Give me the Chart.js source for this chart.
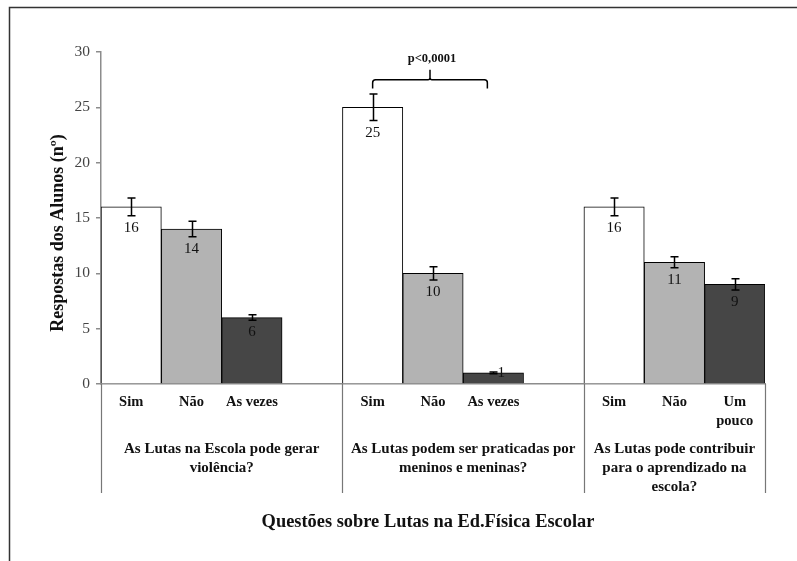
<!DOCTYPE html>
<html>
<head>
<meta charset="utf-8">
<script src="https://cdn.jsdelivr.net/npm/chart.js@4.4.0/dist/chart.umd.min.js"></script>
<style>
html, body { margin: 0; padding: 0; background: #fff; }
</style>
</head>
<body>
<canvas id="chart" width="797" height="561"></canvas>
<script>
// data
var categories = ["Sim", "Não", "As vezes", "", "Sim", "Não", "As vezes", "", "Sim", "Não", ["Um", "pouco"]];
var values = [16, 14, 6, null, 25, 10, 1, null, 16, 11, 9];
var errors = [0.8, 0.7, 0.25, null, 1.2, 0.6, 0.08, null, 0.8, 0.5, 0.5];
var answer_type = [0, 1, 2, null, 0, 1, 2, null, 0, 1, 2];
var group_labels = [
  ["As Lutas na Escola pode gerar", "violência?"],
  ["As Lutas podem ser praticadas por", "meninos e meninas?"],
  ["As Lutas pode contribuir", "para o aprendizado na", "escola?"]
];
var group_start = [0, 4, 8];
var group_end = [3, 7, 10];
var bracket_from = 4;
var bracket_to = 6;
var bracket_text = "p<0,0001";
var y_title = "Respostas dos Alunos (nº)";
var x_title = "Questões sobre Lutas na Ed.Física Escolar";

var fills = ["#ffffff", "#b3b3b3", "#464646"];
var serif = '"Liberation Serif", "Times New Roman", serif';

var bar_colors = [];
for (var i in answer_type) {
  bar_colors.push(answer_type[i] == null ? "#fff" : fills[answer_type[i]]);
}

// frame, error bars, value labels, group labels, bracket, axis titles
var extras = {
  id: "extras",
  afterDraw: function(chart) {
    var ctx = chart.ctx;
    var x = chart.scales.x;
    var y = chart.scales.y;
    var w = x.getPixelForValue(1) - x.getPixelForValue(0);
    ctx.save();

    // outer frame (cut at right and bottom like the picture)
    ctx.strokeStyle = "#333";
    ctx.lineWidth = 1.5;
    ctx.beginPath();
    ctx.moveTo(9.5, 561);
    ctx.lineTo(9.5, 7.5);
    ctx.lineTo(797, 7.5);
    ctx.stroke();

    // error bars
    ctx.strokeStyle = "#000";
    ctx.lineWidth = 1.5;
    for (var i = 0; i < values.length; i++) {
      if (values[i] == null) continue;
      var cx = Math.round(x.getPixelForValue(i)) + 0.5;
      var top = y.getPixelForValue(values[i] + errors[i]);
      var bot = y.getPixelForValue(values[i] - errors[i]);
      ctx.beginPath();
      ctx.moveTo(cx, top); ctx.lineTo(cx, bot);
      ctx.moveTo(cx - 4, top); ctx.lineTo(cx + 4, top);
      ctx.moveTo(cx - 4, bot); ctx.lineTo(cx + 4, bot);
      ctx.stroke();
    }

    // value labels under the error bars
    ctx.font = "15px " + serif;
    ctx.fillStyle = "#111";
    ctx.textAlign = "center";
    ctx.textBaseline = "middle";
    for (var i = 0; i < values.length; i++) {
      if (values[i] == null) continue;
      var lx = x.getPixelForValue(i);
      var ly = y.getPixelForValue(values[i] - errors[i]) + 12;
      if (ly > y.bottom - 9) {
        ly = y.getPixelForValue(values[i]);
        lx += 8;
      }
      ctx.fillText(String(values[i]), lx, ly);
    }

    // group separators below the axis
    ctx.strokeStyle = "#777";
    ctx.lineWidth = 1.2;
    var edges = [x.getPixelForValue(group_start[0]) - w / 2];
    for (var g = 0; g < group_end.length; g++) {
      edges.push(x.getPixelForValue(group_end[g]) + w / 2);
    }
    ctx.beginPath();
    for (var e in edges) {
      var ex = Math.round(edges[e]) + 0.5;
      ctx.moveTo(ex, y.bottom);
      ctx.lineTo(ex, y.bottom + 109);
    }
    ctx.stroke();

    // group labels
    ctx.font = "bold 15px " + serif;
    ctx.fillStyle = "#111";
    for (var g = 0; g < group_labels.length; g++) {
      var gx = (edges[g] + edges[g + 1]) / 2;
      for (var k = 0; k < group_labels[g].length; k++) {
        ctx.fillText(group_labels[g][k], gx, y.bottom + 65 + k * 19);
      }
    }

    // significance bracket
    var x1 = x.getPixelForValue(bracket_from);
    var x2 = x.getPixelForValue(bracket_to) - 6;
    var xm = (x1 + x2) / 2;
    var yEnd = y.getPixelForValue(26.7);
    var yBar = y.getPixelForValue(27.5);
    var yTip = y.getPixelForValue(28.4);
    ctx.strokeStyle = "#000";
    ctx.lineWidth = 1.5;
    ctx.beginPath();
    ctx.moveTo(x1, yEnd);
    ctx.arcTo(x1, yBar, x1 + 3, yBar, 3);
    ctx.lineTo(xm - 2, yBar);
    ctx.arcTo(xm, yBar, xm, yTip, 2);
    ctx.lineTo(xm, yTip);
    ctx.moveTo(xm, yBar - 2);
    ctx.arcTo(xm, yBar, xm + 2, yBar, 2);
    ctx.lineTo(x2 - 3, yBar);
    ctx.arcTo(x2, yBar, x2, yEnd, 3);
    ctx.lineTo(x2, yEnd);
    ctx.stroke();
    ctx.font = "bold 12.5px " + serif;
    ctx.fillText(bracket_text, xm + 2, y.getPixelForValue(29.35));

    // axis titles
    ctx.font = "bold 18.4px " + serif;
    ctx.fillText(x_title, 428, y.bottom + 138);
    ctx.translate(58, 233);
    ctx.rotate(-Math.PI / 2);
    ctx.font = "bold 18px " + serif;
    ctx.fillText(y_title, 0, 0);

    ctx.restore();
  }
};

new Chart(document.getElementById("chart"), {
  type: "bar",
  data: {
    labels: categories,
    datasets: [{
      data: values,
      backgroundColor: bar_colors,
      borderColor: "#000",
      borderWidth: 1,
      barPercentage: 1,
      categoryPercentage: 1
    }]
  },
  options: {
    responsive: false,
    animation: false,
    layout: { padding: { left: 0, top: 52, right: 32, bottom: 0 } },
    plugins: {
      legend: { display: false },
      tooltip: { enabled: false }
    },
    scales: {
      x: {
        offset: true,
        grid: { display: false, drawTicks: false },
        border: { display: true, color: "#8c8c8c", width: 1.5 },
        ticks: {
          autoSkip: false,
          maxRotation: 0,
          padding: 9,
          color: "#111",
          font: { family: serif, size: 14.5, weight: "bold", lineHeight: 1.3 }
        },
        afterFit: function(scale) { scale.height = 177; }
      },
      y: {
        min: 0,
        max: 30,
        ticks: {
          stepSize: 5,
          padding: 6,
          color: "#444",
          font: { family: serif, size: 15.5 }
        },
        grid: { drawOnChartArea: false, color: "#8c8c8c", tickLength: 5, lineWidth: 1.5 },
        border: { color: "#8c8c8c", width: 1.5 },
        afterFit: function(scale) { scale.width = 101; }
      }
    }
  },
  plugins: [extras]
});
</script>
</body>
</html>
